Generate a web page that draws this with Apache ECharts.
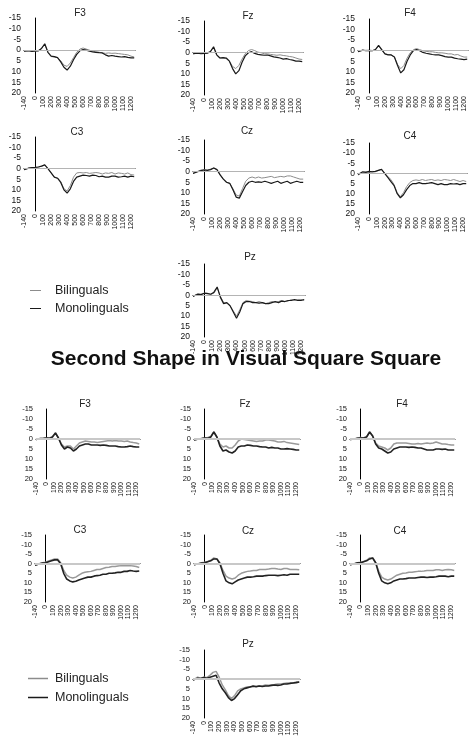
<!DOCTYPE html>
<html>
<head>
<meta charset="utf-8">
<script src="https://cdn.jsdelivr.net/npm/echarts@6/dist/echarts.min.js"></script>
<style>
  html, body { margin: 0; padding: 0; background: #fff; }
  #main { width: 476px; height: 745px; }
</style>
</head>
<body>
<div id="main"></div>
<script>
// sample times (ms)
const times = [-140, -120, -80, -40, 0, 40, 80, 120, 160, 200, 240, 280, 320, 360, 400, 440, 480, 520,
  560, 600, 640, 680, 720, 760, 800, 840, 880, 920, 960, 1000, 1040, 1080, 1120, 1160, 1200, 1240]
const xTickLabels = [-140, 0, 100, 200, 300, 400, 500, 600, 700, 800, 900, 1000, 1100, 1200]
const seriesNames = ['Bilinguals', 'Monolinguals']
const mainTitle = 'Second Shape in Visual Square Square'

// first block (top half)
const topF3Bi = [0.5, 0.4, 0.3, 0.5, 0.5, 0.2, -0.8, -2.8, 1.2, 3, 3.2, 3.5, 5, 7, 7.6, 6, 3.5, 1, -0.5, -1, -0.5, 0, 0.5, 0.8, 1, 1.2, 1.5, 1.3, 1.5, 1.4, 1.6, 1.8, 2, 2.2, 2.8, 3.2]
const topF3Mono = [0.5, 0.5, 0.2, 0.6, 0.4, 0.3, -0.8, -3, 1, 2.8, 3, 3.5, 5.5, 8, 9.3, 7.5, 4.5, 2, 0.3, -0.3, 0, 0.5, 0.8, 1, 1.2, 1.3, 2.2, 2.8, 2.5, 2.8, 3, 3.2, 3, 3.4, 3.6, 3.6]
const topFzBi = [0.5, 0.5, 0.3, 0.4, 0.4, 0.2, -0.5, -2.5, 1.2, 2.5, 2.5, 2.8, 4, 6.5, 7.5, 6, 3, 0.5, -1, -1.5, -1, -0.3, 0, 0.5, 0.5, 0.8, 1, 1.2, 1, 1.3, 1.5, 1.8, 2, 2.5, 3, 3.2]
const topFzMono = [0.5, 0.4, 0.2, 0.5, 0.3, 0.2, -0.5, -2.8, 1, 2.5, 2.3, 2.5, 4, 7.5, 10, 8.5, 4.5, 1.5, 0, -0.5, 0.3, 0.8, 1, 1.2, 1.1, 1.5, 2, 2.2, 2.5, 3, 2.8, 3.2, 3.5, 4, 4, 4.2]
const topF4Bi = [0.3, 0.3, -0.2, -0.2, 0, 0, -0.5, -2.3, -0.3, 1.5, 1.8, 2, 3, 6.5, 8.5, 7, 3.5, 1, -0.5, -1, -0.5, 0, 0.3, 0.5, 0.5, 0.8, 1, 1, 1.2, 1.5, 1.5, 2, 1.8, 2.5, 3, 3]
const topF4Mono = [0.5, 0.3, -0.3, 0, -0.2, 0, -0.5, -2.5, -0.5, 1.5, 2, 2, 3, 7, 10.5, 9, 5, 2, 0, -0.5, 0, 0.8, 1.2, 1.5, 1.8, 2, 2, 2.3, 2.8, 3, 3, 3.5, 3.8, 4, 4.2, 4]
const topC3Bi = [0.5, 0, -0.3, -0.5, -0.6, -0.8, -1.2, -1.8, 0, 2, 4, 4.5, 6, 9.5, 10.5, 8, 4, 2, 1.8, 2, 1.8, 2.2, 2, 1.8, 2, 2.5, 2, 2.2, 1.8, 2.5, 2, 2.2, 2.5, 2, 2.8, 3]
const topC3Mono = [0.5, 0, -0.3, -0.5, -0.6, -0.8, -1.2, -1.8, 0, 2, 4, 4.5, 6.5, 10, 11.5, 9.5, 6, 4, 3.5, 3, 3.2, 3.5, 3, 3.2, 3.8, 3.5, 4, 4, 3.5, 3.5, 4, 3.8, 3.5, 4, 3.5, 3.8]
const topCzBi = [0.8, 0.5, -0.2, -0.8, -1, -0.8, -1.2, -1.8, -1, 1.5, 3.5, 5, 5.5, 8, 11, 11.5, 8, 4.5, 3, 2.5, 3, 2.5, 3, 2.8, 2.5, 2.2, 2.8, 2.5, 2.2, 2.5, 2, 2, 2.5, 3, 3.5, 3.5]
const topCzMono = [0.8, 0.5, 0, -0.5, -0.8, -0.6, -1, -1.8, -1, 1.5, 3.5, 5, 5.5, 8.5, 12, 12.5, 9.5, 6.5, 5, 4.5, 5, 4.8, 5, 4.5, 5, 5.5, 5, 4.5, 5.5, 5, 4.5, 5.5, 5, 4.5, 5, 5]
const topC4Bi = [0.8, 0.3, -0.5, -0.8, -0.5, -1, -0.8, -1.5, -2, 0, 1.5, 3, 5.5, 9.5, 11.5, 9.5, 6.5, 4.5, 3.5, 3.2, 3.5, 3, 3.5, 3.2, 3, 3.5, 3.2, 3.5, 3, 3.2, 3.5, 3, 3.5, 4, 3.5, 4]
const topC4Mono = [0.5, 0, -0.8, -0.5, -1, -0.8, -1, -1.5, -2, 0, 2, 4, 6, 10, 12, 10.5, 8, 6, 5, 5, 4.5, 5, 5, 4.8, 4.5, 5, 5.5, 5, 5.5, 5.5, 5, 5.2, 5, 5.5, 5, 5]
const topPzBi = [0.5, 0.5, -0.8, -0.5, -1, -1, -0.5, -1, -3.5, 0.5, 3.5, 3.8, 5, 7.5, 10, 7, 3.5, 2.5, 2.8, 3, 3.5, 3, 3.5, 4, 3.5, 3, 3.5, 3, 2.5, 3, 2.8, 2, 2.5, 2, 2, 2.5]
const topPzMono = [0.5, 0.3, -0.5, -0.3, -1, -0.8, -0.5, -1.5, -4, 1, 4, 3.5, 5, 8, 11, 8, 4, 3, 3, 3.5, 3.5, 3.8, 3.5, 4, 4, 3.5, 3, 3.5, 2.8, 3, 2.5, 2.5, 2, 2.5, 2.5, 2]

// second block (bottom half)
const botF3Bi = [0.2, 0, -0.2, -0.3, -0.5, -0.5, -1.2, -3, -0.5, 2.5, 4, 3.5, 3.5, 5, 3.5, 2, 1.5, 1, 1.2, 1.5, 1.5, 1.8, 1.5, 1.2, 1, 0.8, 1, 0.8, 1, 1, 1.2, 1, 1.5, 1.8, 2, 2.5]
const botF3Mono = [0.2, 0, -0.2, -0.3, -0.5, -0.3, -1, -3, -0.5, 3, 5, 4, 4.5, 6, 5, 3.5, 3, 2.5, 2.5, 3, 3, 3, 3.2, 3, 3.2, 3.5, 3.5, 3.5, 3.8, 4, 4, 3.8, 3.5, 3.8, 4, 4]
const botFzBi = [0.5, 0.3, 0, -0.3, -0.5, -0.8, -1.2, -3.5, -1, 2.5, 4, 3.5, 4.5, 4.5, 3, 1, 0, 0.3, 0.5, 0.8, 1, 1.2, 1, 1, 0.5, 0.5, 0.8, 1, 1.5, 1.5, 1.2, 1.8, 2, 2.2, 2.5, 2.8]
const botFzMono = [0.5, 0.3, 0, -0.2, -0.5, -0.3, -1, -3.5, -1, 3.5, 6, 5.5, 6.5, 7, 6, 4, 3.5, 3.5, 3, 3.2, 3.5, 3.5, 3.8, 4, 4, 4.5, 4.2, 4.5, 4.5, 5, 5, 4.8, 5, 5.2, 5.5, 5.5]
const botF4Bi = [0.2, 0.2, 0, -0.5, -0.8, -0.5, -1.2, -3.5, -1.5, 2, 3.5, 4, 4.5, 5.5, 4.5, 2.5, 2, 2, 2, 2, 2.2, 2.5, 2.5, 2.2, 2.5, 2.2, 2, 2.2, 2, 1.5, 2, 2.5, 2.5, 2.8, 3, 3]
const botF4Mono = [0.2, 0.2, 0, -0.3, -0.5, -0.5, -1, -3.5, -1.5, 2.5, 4.5, 5, 6, 7, 6.5, 5, 4.5, 4, 4, 4, 4.2, 4, 4.2, 4.5, 4.5, 5, 5.5, 5.5, 5.5, 5, 5, 5.2, 5, 5.5, 5.5, 5.5]
const botC3Bi = [0.8, 0.5, 0, -0.5, -0.8, -1.5, -2, -2.5, -2.5, -0.5, 3.5, 6, 7, 7.5, 7, 6, 5, 4.5, 4.2, 4, 3.5, 3, 3, 2.5, 2, 1.8, 1.5, 1.5, 1.2, 1, 1, 1, 1, 1.2, 1.5, 2]
const botC3Mono = [0.8, 0.5, 0, -0.3, -0.5, -1, -1.5, -2, -2, 0, 5, 8, 9, 9.5, 9.2, 8.5, 8, 7.5, 7, 7, 6.5, 6.2, 6, 5.5, 5.5, 5, 5, 4.8, 4.5, 4.5, 4, 4, 3.5, 3.8, 4, 3.8]
const botCzBi = [0.5, 0.3, 0, -0.5, -0.8, -1.2, -1.8, -3, -2.5, -0.5, 3.5, 6.5, 7.5, 8, 7.5, 6, 5, 4.5, 4, 3.8, 3.5, 3.5, 3, 3, 3, 2.8, 2.5, 2.5, 2.8, 3, 2.5, 2.5, 3, 3, 3, 3.2]
const botCzMono = [0.5, 0.3, 0, -0.3, -0.5, -1, -1.5, -2.5, -2.5, 0, 5, 9, 10, 10.5, 9.5, 8.5, 8, 7.5, 7, 7, 6.8, 6.5, 6.5, 6.5, 6.2, 6, 6, 6, 6.2, 6, 5.8, 6, 5.5, 5.5, 5.5, 5.5]
const botC4Bi = [0.5, 0.3, 0, -0.5, -0.8, -1.2, -1.8, -3, -3, -0.5, 4, 7, 8, 8.5, 8, 7, 6, 5.5, 5, 4.8, 4.5, 4.5, 4.2, 4, 4, 3.8, 3.5, 3.5, 3.5, 3.2, 3.2, 3.5, 3.2, 3, 3.2, 3.5]
const botC4Mono = [0.5, 0.3, 0, -0.5, -0.5, -1, -1.5, -2.5, -3, -0.5, 5, 9, 10, 10.5, 10, 9, 8.5, 8, 8, 7.8, 7.5, 7.5, 7.5, 7.2, 7, 7, 7.2, 7, 7, 6.8, 6.5, 6.5, 6.5, 6.8, 6.5, 6.5]
const botPzBi = [0.5, 0.3, -1, -0.5, -1, -0.8, -2, -3.5, -4, -1, 3, 5.5, 8.5, 10, 8.5, 6, 5, 4.5, 4, 4, 3.8, 4, 3.5, 3.5, 3, 3.2, 3, 2.8, 2.5, 2.5, 2.2, 2, 2, 2, 1.5, 1.5]
const botPzMono = [0.5, 0.3, -0.5, -0.3, -0.8, -0.5, -1, -1.5, -2, 2, 5, 7, 9.5, 11, 10, 8, 6, 5, 4.5, 4, 3.5, 3.8, 3.5, 3.8, 3.5, 3.5, 3.2, 3, 3.2, 3, 2.5, 2.5, 2.2, 2, 1.8, 1.5]

const panels = [
  { name: 'F3', half: 0, bi: topF3Bi, mono: topF3Mono },
  { name: 'Fz', half: 0, bi: topFzBi, mono: topFzMono },
  { name: 'F4', half: 0, bi: topF4Bi, mono: topF4Mono },
  { name: 'C3', half: 0, bi: topC3Bi, mono: topC3Mono },
  { name: 'Cz', half: 0, bi: topCzBi, mono: topCzMono },
  { name: 'C4', half: 0, bi: topC4Bi, mono: topC4Mono },
  { name: 'Pz', half: 0, bi: topPzBi, mono: topPzMono },
  { name: 'F3', half: 1, bi: botF3Bi, mono: botF3Mono },
  { name: 'Fz', half: 1, bi: botFzBi, mono: botFzMono },
  { name: 'F4', half: 1, bi: botF4Bi, mono: botF4Mono },
  { name: 'C3', half: 1, bi: botC3Bi, mono: botC3Mono },
  { name: 'Cz', half: 1, bi: botCzBi, mono: botCzMono },
  { name: 'C4', half: 1, bi: botC4Bi, mono: botC4Mono },
  { name: 'Pz', half: 1, bi: botPzBi, mono: botPzMono },
]

// grid boxes + title centre, in px
const layout = [
  { left: 24, top: 18, width: 111, height: 75, tx: 75, ty: 9 },
  { left: 193, top: 21, width: 110, height: 74, tx: 243, ty: 12 },
  { left: 358, top: 19, width: 110, height: 74, tx: 405, ty: 9 },
  { left: 24, top: 137, width: 111, height: 74, tx: 72, ty: 128 },
  { left: 193, top: 140, width: 111, height: 74, tx: 242, ty: 127 },
  { left: 358, top: 143, width: 109, height: 71, tx: 405, ty: 132 },
  { left: 193, top: 264, width: 112, height: 73, tx: 245, ty: 253 },
  { left: 36, top: 409, width: 104, height: 70, tx: 80, ty: 400 },
  { left: 194, top: 409, width: 106, height: 70, tx: 240, ty: 400 },
  { left: 350, top: 409, width: 105, height: 70, tx: 397, ty: 400 },
  { left: 35, top: 535, width: 105, height: 67, tx: 75, ty: 526 },
  { left: 194, top: 535, width: 106, height: 67, tx: 243, ty: 527 },
  { left: 350, top: 535, width: 105, height: 67, tx: 395, ty: 527 },
  { left: 193, top: 650, width: 107, height: 68, tx: 243, ty: 640 },
]

const halfStyle = [
  { bi: '#8c8c8c', biW: 1, mono: '#1a1a1a', monoW: 1.2, zero: '#b4b4b4', zeroW: 1, yFont: 8.5, xFont: 7 },
  { bi: '#9a9a9a', biW: 1.5, mono: '#222', monoW: 1.6, zero: '#c8c8c8', zeroW: 2, yFont: 7.5, xFont: 6.6 },
]

const grid = []
const xAxis = []
const yAxis = []
const series = []
const titles = []

panels.forEach((p, i) => {
  const L = layout[i]
  const s = halfStyle[p.half]
  grid.push({ left: L.left, top: L.top, width: L.width, height: L.height })
  xAxis.push({
    gridIndex: i,
    type: 'value',
    min: -140,
    max: 1250,
    axisLine: { lineStyle: { color: '#000', width: 1 } },
    axisTick: { show: false },
    splitLine: { show: false },
    axisLabel: {
      customValues: xTickLabels,
      formatter: (v) => String(v),
      showMinLabel: true,
      showMaxLabel: true,
      hideOverlap: false,
      rotate: 90,
      fontSize: s.xFont,
      color: '#111',
      margin: 3,
    },
  })
  yAxis.push({
    gridIndex: i,
    type: 'value',
    inverse: true,
    min: -15,
    max: 20,
    interval: 5,
    axisLine: { show: true, lineStyle: { color: '#000', width: 1 } },
    axisTick: { show: false },
    splitLine: { show: false },
    axisLabel: { fontSize: s.yFont, color: '#111', margin: 3 },
  })
  titles.push({
    text: p.name,
    left: L.tx,
    top: L.ty - 6,
    textAlign: 'center',
    textStyle: { fontSize: 10, fontWeight: 'normal', color: '#222' },
  })
  series.push({
    name: seriesNames[0],
    type: 'line',
    xAxisIndex: i,
    yAxisIndex: i,
    showSymbol: false,
    color: s.bi,
    lineStyle: { color: s.bi, width: s.biW },
    data: times.map((t, k) => [t, p.bi[k]]),
    markLine: {
      silent: true,
      symbol: ['none', 'none'],
      label: { show: false },
      lineStyle: { color: s.zero, width: s.zeroW, type: 'solid' },
      data: [{ yAxis: 0 }],
    },
    z: 2,
  })
  series.push({
    name: seriesNames[1],
    type: 'line',
    xAxisIndex: i,
    yAxisIndex: i,
    showSymbol: false,
    color: s.mono,
    lineStyle: { color: s.mono, width: s.monoW },
    data: times.map((t, k) => [t, p.mono[k]]),
    z: 3,
  })
})

titles.push({
  text: mainTitle,
  left: 241,
  top: 344,
  textAlign: 'center',
  textStyle: { fontSize: 21, fontWeight: 'bold', color: '#111' },
})

const option = {
  animation: false,
  textStyle: { fontFamily: 'Liberation Sans, Arial, sans-serif' },
  title: titles,
  grid: grid,
  xAxis: xAxis,
  yAxis: yAxis,
  legend: [
    {
      data: seriesNames,
      orient: 'vertical',
      left: 25,
      top: 279,
      icon: 'rect',
      itemWidth: 11,
      itemHeight: 1,
      itemGap: 5,
      selectedMode: false,
      textStyle: { fontSize: 12.5, color: '#222', padding: [0, 0, 0, 9] },
    },
    {
      data: seriesNames,
      orient: 'vertical',
      left: 23,
      top: 667,
      icon: 'rect',
      itemWidth: 20,
      itemHeight: 1.5,
      itemGap: 6,
      selectedMode: false,
      textStyle: { fontSize: 12.5, color: '#222', padding: [0, 0, 0, 2] },
    },
  ],
  series: series,
}

const myChart = echarts.init(document.getElementById('main'))
myChart.setOption(option)
</script>
</body>
</html>
